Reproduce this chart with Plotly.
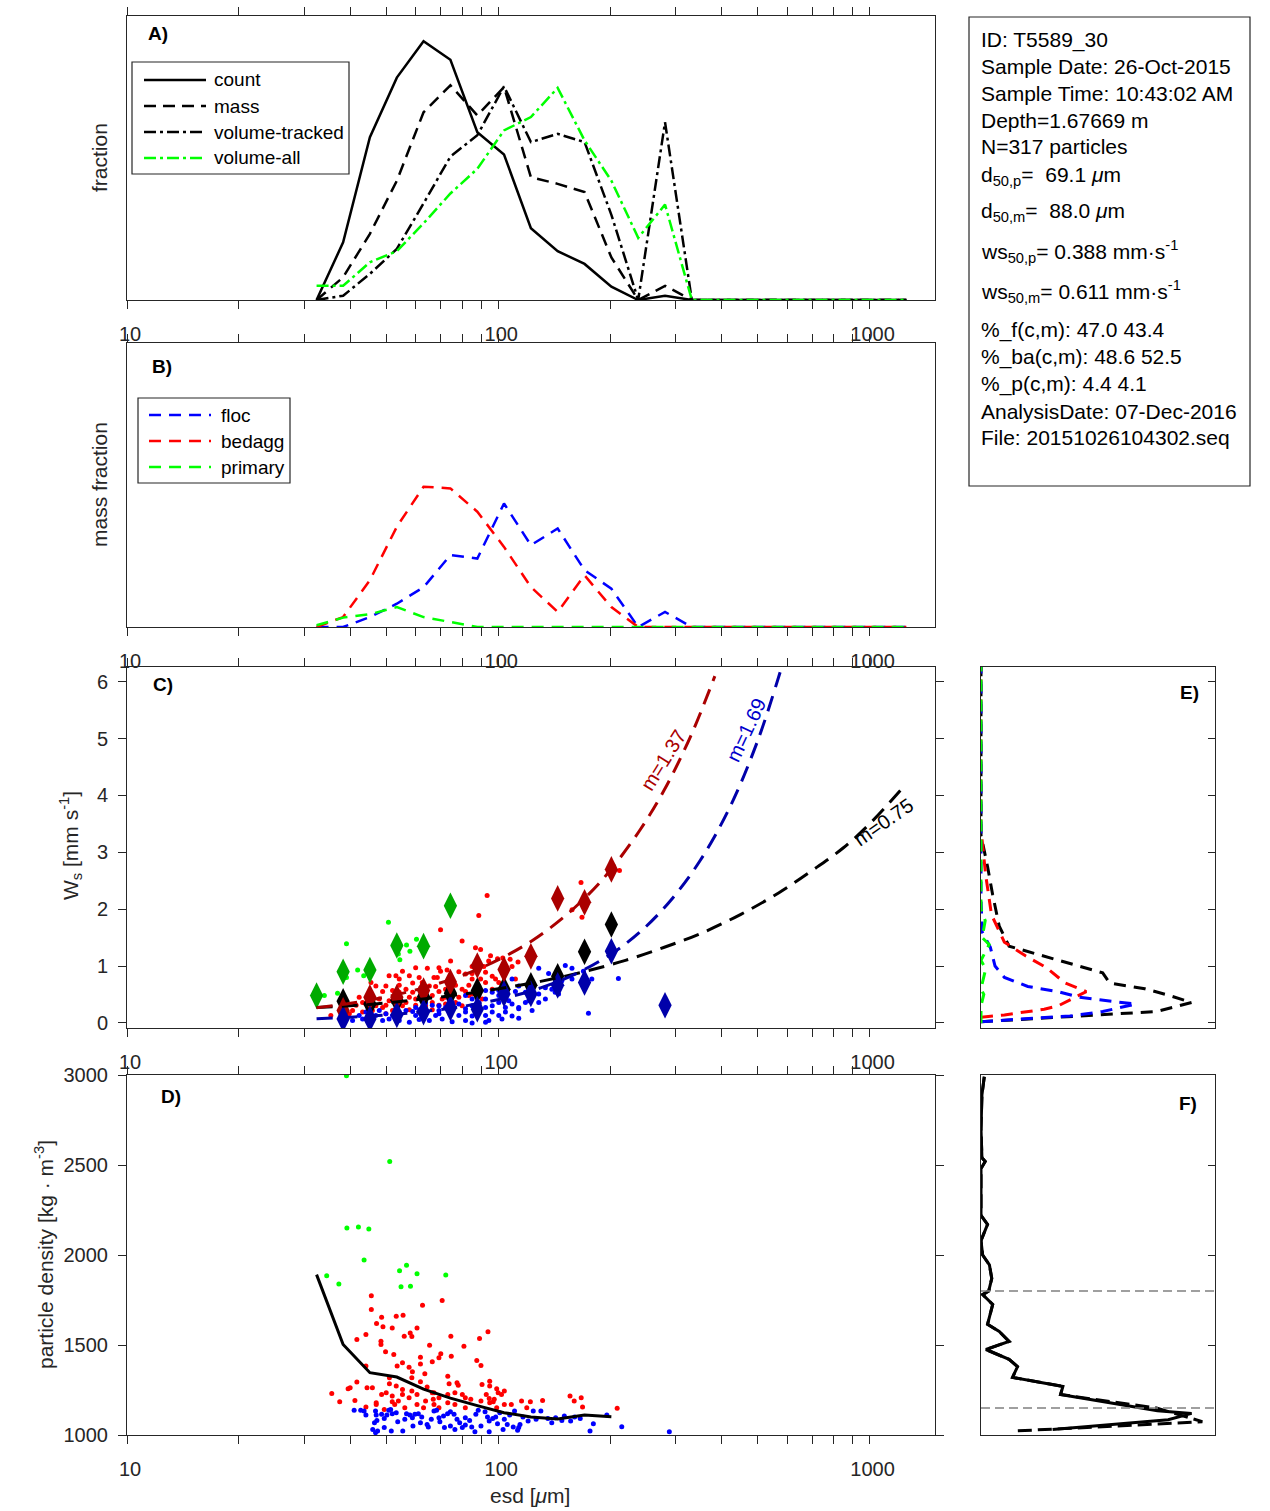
import math
import plotly.graph_objects as go

FONT = "Liberation Sans, Arial, Helvetica, sans-serif"
AXC = "#262626"

# ---------------- DATA ----------------
esd_bins = [32.4, 38.2, 45.1, 53.3, 62.9, 74.3, 87.8, 103.6, 122.4, 144.5, 170.7, 201.6,
            238.1, 281.2, 332.1, 392.2, 463.1, 546.9, 645.7, 762.6, 900.5, 1063, 1256]

A_count = [0, 0.203, 0.573, 0.783, 0.911, 0.846, 0.591, 0.512, 0.253, 0.172, 0.127, 0.047,
           0, 0.015, 0, 0, 0, 0, 0, 0, 0, 0, 0]
A_mass = [0, 0.08, 0.233, 0.42, 0.661, 0.756, 0.65, 0.75, 0.432, 0.409, 0.38, 0.15,
          0, 0.05, 0, 0, 0, 0, 0, 0, 0, 0, 0]
A_vol_tracked = [0, 0.015, 0.092, 0.18, 0.34, 0.505, 0.58, 0.752, 0.556, 0.585, 0.556, 0.30,
                 0, 0.626, 0, 0, 0, 0, 0, 0, 0, 0, 0]
A_vol_all = [0.05, 0.05, 0.133, 0.172, 0.27, 0.375, 0.462, 0.597, 0.644, 0.747, 0.562, 0.42,
             0.219, 0.336, 0, 0, 0, 0, 0, 0, 0, 0, 0]
A_names = ["count", "mass", "volume-tracked", "volume-all"]

B_floc = [0, 0, 0.035, 0.082, 0.14, 0.253, 0.241, 0.435, 0.288, 0.347, 0.2, 0.135,
          0, 0.053, 0, 0, 0, 0, 0, 0, 0, 0, 0]
B_bedagg = [0, 0.035, 0.165, 0.353, 0.494, 0.488, 0.406, 0.282, 0.141, 0.053, 0.182, 0.07,
            0, 0, 0, 0, 0, 0, 0, 0, 0, 0, 0]
B_primary = [0.006, 0.033, 0.045, 0.07, 0.035, 0.018, 0, 0, 0, 0, 0, 0,
             0, 0, 0, 0, 0, 0, 0, 0, 0, 0, 0]
B_names = ["floc", "bedagg", "primary"]

C_bedagg_esd = [93.3, 88.6, 69.9, 79.9, 74.4, 86.8, 89.6, 95.3, 94.2, 99.5, 102.8, 85.0, 91.4, 102.8,
                108.9, 113.0, 107.6, 55.2, 59.9, 64.4, 69.2, 69.9, 72.8, 78.3, 81.6, 85.0, 92.4, 96.3,
                50.8, 53.0, 57.6, 61.2, 67.1, 68.5, 74.4, 89.6, 98.3, 45.4, 46.8, 49.8, 54.1, 56.4,
                58.8, 61.8, 65.2, 67.8, 72.1, 76.7, 79.9, 83.3, 92.4, 100.3, 48.8, 51.9, 54.1, 58.8,
                63.7, 69.2, 75.1, 81.6, 88.6, 42.2, 44.9, 47.8, 50.8, 54.1, 56.4, 59.9, 62.4, 66.4,
                70.6, 76.7, 83.3, 90.5, 41.4, 44.0, 46.8, 49.8, 55.2, 59.9, 63.7, 69.2, 72.1, 35.4,
                40.5, 43.1, 45.8, 51.9, 57.6, 61.2, 66.4, 39.7, 49.8, 158, 168, 167, 212,
                54.1, 62.4, 73.6, 85.0, 66.4, 72.1, 78.3, 79.9, 85.0, 96.3, 104.4, 111.2, 48.8,
                57.6, 43.1, 38.1]
C_bedagg_ws = [2.24, 1.89, 1.64, 1.44, 1.09, 1.32, 1.29, 1.18, 1.09, 1.13, 1.14, 0.99, 0.99, 1.00,
               0.99, 1.07, 1.12, 0.91, 0.97, 0.96, 0.97, 0.91, 0.93, 0.90, 0.86, 0.87, 0.89, 0.82,
               0.83, 0.83, 0.83, 0.80, 0.80, 0.80, 0.83, 0.77, 0.77, 0.71, 0.65, 0.65, 0.66, 0.59,
               0.70, 0.62, 0.65, 0.64, 0.59, 0.66, 0.59, 0.66, 0.71, 0.71, 0.55, 0.57, 0.54, 0.54,
               0.54, 0.55, 0.54, 0.55, 0.65, 0.45, 0.48, 0.42, 0.39, 0.39, 0.36, 0.42, 0.45, 0.36,
               0.42, 0.36, 0.48, 0.42, 0.31, 0.33, 0.30, 0.31, 0.30, 0.31, 0.30, 0.31, 0.33, 0.13,
               0.22, 0.19, 0.22, 0.22, 0.23, 0.19, 0.23, 0.16, 0.16, 1.99, 1.86, 2.47, 2.68,
               0.77, 0.71, 0.71, 0.77, 0.48, 0.45, 0.45, 0.30, 0.51, 0.59, 0.65, 0.77, 0.27,
               0.45, 0.36, 0.25]

C_floc_esd = [151.5, 157.9, 128.5, 136.6, 169.5, 178.6, 145.3, 148.3, 108.9, 113.5, 123.3, 133.9,
              142.3, 100.3, 104.5, 118.3, 128.5, 111.2, 92.4, 96.3, 100.3, 81.6, 85.0, 88.6, 92.4,
              100.3, 106.7, 113.5, 120.8, 128.5, 145.3, 75.1, 78.3, 69.2, 72.1, 66.4, 63.7, 85.0,
              96.3, 108.9, 133.9, 54.1, 56.4, 58.8, 61.2, 63.7, 69.2, 75.1, 81.6, 88.6, 96.3, 104.5,
              113.5, 123.3, 49.8, 44.0, 46.8, 51.9, 59.9, 67.8, 78.3, 85.0, 92.4, 100.3, 108.9, 81.6,
              38.1, 40.5, 43.1, 45.8, 48.8, 50.8, 54.1, 57.6, 61.2, 65.2, 70.6, 75.1, 81.6, 85.0,
              92.4, 102.3, 113.5, 94.3, 210.6, 174.9,
              104.5, 118.3, 139.4, 157.9, 88.6, 73.6, 69.2, 59.9, 53.0, 47.8, 42.2, 123.3, 92.4]
C_floc_ws = [1.01, 0.96, 0.96, 0.87, 0.91, 0.77, 0.83, 0.74, 0.77, 0.65, 0.59, 0.62,
             0.54, 0.57, 0.51, 0.54, 0.51, 0.55, 0.57, 0.54, 0.48, 0.48, 0.42, 0.36, 0.42,
             0.36, 0.39, 0.27, 0.39, 0.36, 0.51, 0.36, 0.33, 0.30, 0.27, 0.31, 0.35, 0.30,
             0.30, 0.33, 0.42, 0.19, 0.22, 0.20, 0.23, 0.22, 0.22, 0.22, 0.19, 0.22, 0.19, 0.19,
             0.25, 0.22, 0.16, 0.19, 0.13, 0.13, 0.13, 0.13, 0.13, 0.12, 0.13, 0.13, 0.12, 0.25,
             0.07, 0.04, 0.07, 0.04, 0.04, 0.07, 0.04, 0.01, 0.06, 0.04, 0.07, 0.02, 0.04, 0.00,
             0.01, 0.07, 0.08, 0.04, 0.78, 0.17,
             0.27, 0.36, 0.59, 0.77, 0.48, 0.42, 0.16, 0.27, 0.25, 0.22, 0.13, 0.48, 0.27]

C_primary_esd = [50.6, 39.0, 60.2, 56.6, 57.8, 53.8, 54.3, 41.8, 43.4, 36.9, 34.0, 39.0]
C_primary_ws = [1.77, 1.39, 1.47, 1.37, 1.26, 1.21, 1.11, 0.93, 0.83, 0.52, 0.48, 0.80]

Cd_primary_esd = [32.4, 38.2, 45.1, 53.3, 62.9, 74.3]
Cd_primary_ws = [0.48, 0.90, 0.93, 1.36, 1.35, 2.06]
Cd_all_esd = [38.2, 45.1, 53.3, 62.9, 74.3, 87.8, 103.6, 122.4, 144.5, 170.7, 201.6]
Cd_all_ws = [0.38, 0.33, 0.40, 0.46, 0.52, 0.57, 0.59, 0.66, 0.82, 1.25, 1.73]
Cd_bedagg_esd = [38.2, 45.1, 53.3, 62.9, 74.3, 87.8, 103.6, 122.4, 144.5, 170.7, 201.6]
Cd_bedagg_ws = [0.22, 0.45, 0.45, 0.57, 0.72, 1.01, 0.94, 1.17, 2.19, 2.12, 2.70]
Cd_floc_esd = [38.2, 45.1, 53.3, 62.9, 74.3, 87.8, 103.6, 122.4, 144.5, 170.7, 201.6, 281.2]
Cd_floc_ws = [0.07, 0.07, 0.14, 0.19, 0.26, 0.24, 0.51, 0.51, 0.66, 0.71, 1.26, 0.31]

fit_all_esd = [32.4, 45, 60, 80, 100, 130, 170, 220, 280, 350, 450, 570, 700, 850, 1000, 1230]
fit_all_ws = [0.27, 0.325, 0.405, 0.505, 0.60, 0.73, 0.90, 1.10, 1.33, 1.57, 1.91, 2.29, 2.68, 3.08, 3.50, 4.14]
fit_bedagg_esd = [32.4, 40, 50, 60, 75, 90, 105, 125, 150, 175, 200, 240, 280, 330, 383]
fit_bedagg_ws = [0.266, 0.347, 0.46, 0.58, 0.77, 0.97, 1.18, 1.47, 1.86, 2.26, 2.68, 3.38, 4.10, 5.05, 6.10]
fit_floc_esd = [32.4, 40, 50, 60, 75, 90, 110, 130, 160, 200, 240, 290, 350, 420, 500, 586]
fit_floc_ws = [0.072, 0.099, 0.14, 0.186, 0.26, 0.35, 0.475, 0.616, 0.85, 1.20, 1.59, 2.14, 2.86, 3.79, 4.97, 6.36]
fit_labels = ["m=1.37", "m=1.69", "m=0.75"]

D_bedagg_esd = [45.5, 45.5, 62.5, 70.6, 48.5, 53.1, 55.4, 47.0, 48.9, 51.8, 57.9, 58.5, 60.4, 44.0,
                41.6, 55.8, 48.3, 48.3, 74.5, 65.3, 80.8, 89.0, 93.8, 49.7, 52.3, 70.0, 69.2, 74.7,
                61.7, 66.4, 55.2, 57.5, 61.7, 53.4, 58.7, 63.4, 44.0, 39.9, 39.4, 41.6, 44.3, 45.8,
                35.6, 37.4, 41.1, 44.0, 46.9, 50.9, 50.9, 53.1, 55.2, 58.5, 61.7, 64.3, 67.1, 69.2,
                73.1, 73.7, 77.4, 78.0, 76.4, 80.0, 73.1, 63.7, 60.4, 57.5, 53.8, 51.8, 48.5, 49.9,
                52.6, 87.5, 89.8, 90.4, 94.8, 94.8, 99.0, 99.9, 103.8, 81.5, 84.3, 92.8, 94.5, 96.9,
                103.8, 115.5, 122.0, 131.6, 156.0, 160.1, 167.2, 168.6, 209.0, 119.3, 97.5, 67.1,
                62.9, 69.2, 66.4, 81.5, 89.8, 102.0, 66.8, 76.4, 73.1, 51.8, 58.5, 55.2, 49.3, 46.9,
                56.0, 60.4, 94.8, 99.0, 108.4]
D_bedagg_rho = [1774, 1697, 1721, 1747, 1654, 1660, 1665, 1619, 1601, 1595, 1567, 1547, 1595, 1558,
                1530, 1549, 1521, 1503, 1549, 1499, 1493, 1536, 1573, 1462, 1447, 1451, 1429, 1438,
                1432, 1407, 1401, 1377, 1395, 1383, 1351, 1340, 1383, 1262, 1257, 1294, 1262, 1262,
                1231, 1185, 1192, 1155, 1179, 1318, 1285, 1272, 1253, 1318, 1296, 1266, 1235, 1207,
                1327, 1285, 1290, 1277, 1235, 1225, 1179, 1189, 1225, 1207, 1189, 1216, 1225, 1235,
                1170, 1414, 1386, 1281, 1299, 1272, 1257, 1235, 1244, 1207, 1198, 1225, 1203, 1185,
                1170, 1189, 1185, 1192, 1216, 1189, 1207, 1155, 1148, 1152, 1198, 1170,
                1152, 1152, 1235, 1152, 1189, 1225, 1198, 1170, 1225, 1185, 1244, 1225, 1142, 1170,
                1152, 1170, 1179, 1152, 1170]

D_floc_esd = [40.9, 42.6, 43.5, 44.0, 46.7, 46.9, 47.1, 46.4, 45.9, 46.7, 47.3, 48.5, 49.3, 50.1,
              50.7, 51.3, 51.8, 49.3, 51.5, 53.1, 56.6, 57.8, 58.7, 59.6, 60.9, 62.2, 64.3, 64.8,
              66.0, 67.1, 68.2, 69.2, 69.6, 71.6, 73.0, 74.3, 76.0, 77.4, 78.7, 80.0, 81.5, 83.7,
              84.8, 86.5, 87.0, 88.3, 92.1, 93.5, 94.5, 96.6, 94.5, 98.4, 99.5, 100.9, 103.8, 105.7,
              107.3, 109.7, 110.6, 112.7, 114.4, 116.5, 120.3, 124.2, 126.4, 130.2, 136.0, 139.3,
              142.7, 148.3, 150.6, 156.6, 160.5, 166.2, 176.6, 180.3, 196.0, 215.0, 288.8, 55.3,
              58.9, 61.7, 74.3, 76.4, 81.5, 89.8, 103.0, 113.5, 71.2, 56.0, 53.6]
D_floc_rho = [1137, 1137, 1133, 1111, 1133, 1111, 1081, 1068, 1031, 1013, 1022, 1115, 1092, 1111,
              1137, 1142, 1118, 1041, 1022, 1124, 1118, 1111, 1096, 1115, 1118, 1100, 1059, 1044,
              1087, 1133, 1137, 1096, 1074, 1041, 1118, 1129, 1115, 1087, 1068, 1041, 1096, 1081,
              1044, 1018, 1115, 1137, 1129, 1100, 1078, 1092, 1018, 1100, 1063, 1124, 1087, 1059,
              1111, 1044, 1133, 1026, 1059, 1100, 1078, 1133, 1087, 1133, 1092, 1068,
              1096, 1081, 1105, 1078, 1100, 1092, 1022, 1063, 1111, 1046, 1018, 1022,
              1050, 1068, 1050, 1031, 1055, 1050, 1031, 1041, 1105, 1087, 1074]

D_primary_esd = [39.0, 51.0, 39.1, 42.0, 44.8, 43.5, 34.5, 37.2, 54.2, 56.6, 60.4, 72.2, 54.7, 58.0]
D_primary_rho = [2996, 2519, 2150, 2155, 2144, 1972, 1885, 1839, 1913, 1943, 1896, 1889, 1824, 1826]

D_mean_rho = [1891, 1503, 1346, 1322, 1255, 1205, 1163, 1124, 1100, 1089, 1111, 1102]

E_all_ws = [0.02, 0.20, 0.36, 0.50, 0.60, 0.70, 0.88, 1.05, 1.22, 1.35, 1.70, 2.25, 2.75, 3.30, 6.26]
E_all_f = [0.0, 0.75, 0.90, 0.79, 0.70, 0.55, 0.52, 0.37, 0.23, 0.12, 0.078, 0.05, 0.028, 0.0, 0.0]
E_bedagg_ws = [0.10, 0.14, 0.24, 0.30, 0.55, 0.70, 0.97, 1.18, 1.42, 1.90, 2.60, 3.40, 6.26]
E_bedagg_f = [0.0, 0.10, 0.27, 0.33, 0.45, 0.36, 0.28, 0.19, 0.10, 0.045, 0.02, 0.0, 0.0]
E_floc_ws = [0.02, 0.05, 0.09, 0.12, 0.20, 0.33, 0.45, 0.55, 0.64, 0.80, 1.0, 1.33, 1.6, 2.2, 6.26]
E_floc_f = [0.0, 0.10, 0.25, 0.38, 0.52, 0.66, 0.42, 0.33, 0.20, 0.10, 0.06, 0.04, 0.005, 0.0, 0.0]
E_primary_ws = [0.0, 0.3, 0.5, 0.6, 0.95, 1.1, 1.38, 1.5, 1.8, 2.0, 6.26]
E_primary_f = [0.0, 0.0, 0.012, 0.0, 0.02, 0.0, 0.035, 0.005, 0.018, 0.0, 0.0]

F_rho = [2990, 2890, 2700, 2540, 2520, 2480, 2220, 2170, 2080, 2000, 1945, 1870, 1800, 1780, 1725,
         1670, 1615, 1575, 1520, 1475, 1420, 1380, 1320, 1270, 1225, 1135, 1120, 1085, 1030]
F_frac = [0.014, 0.004, 0.0, 0.004, 0.018, 0.0, 0.0, 0.028, 0.0, 0.007, 0.036, 0.046, 0.033, 0.007,
          0.05, 0.038, 0.028, 0.078, 0.12, 0.021, 0.12, 0.156, 0.135, 0.35, 0.34, 0.754, 0.90, 0.80, 0.306]
F_rho2 = [2990, 2890, 2700, 2540, 2520, 2480, 2220, 2170, 2080, 2000, 1945, 1870, 1800, 1780, 1725,
          1670, 1615, 1575, 1520, 1475, 1420, 1380, 1320, 1270, 1225, 1150, 1074, 1022]
F_frac2 = [0.014, 0.004, 0.0, 0.004, 0.018, 0.0, 0.0, 0.028, 0.0, 0.007, 0.036, 0.046, 0.033, 0.007,
           0.05, 0.038, 0.028, 0.078, 0.12, 0.021, 0.12, 0.156, 0.135, 0.35, 0.34, 0.75, 0.946, 0.142]
F_ref_rho = [1800, 1150]

info_lines = ["ID: T5589_30", "Sample Date: 26-Oct-2015", "Sample Time: 10:43:02 AM",
              "Depth=1.67669 m", "N=317 particles",
              "d<sub>50,p</sub>=\u00a0 69.1 <i>\u03bc</i>m", "d<sub>50,m</sub>=\u00a0 88.0 <i>\u03bc</i>m",
              "ws<sub>50,p</sub>= 0.388 mm\u00b7s<sup>-1</sup>", "ws<sub>50,m</sub>= 0.611 mm\u00b7s<sup>-1</sup>",
              "%_f(c,m): 47.0 43.4", "%_ba(c,m): 48.6 52.5", "%_p(c,m): 4.4 4.1",
              "AnalysisDate: 07-Dec-2016", "File: 20151026104302.seq"]

# ---------------- LAYOUT ----------------
W, H = 1270, 1511
def px(x):
    return x / W
def py(y):
    return 1 - y / H

minor_vals = [20, 30, 40, 50, 60, 70, 80, 90, 200, 300, 400, 500, 600, 700, 800, 900]

def xlog(anchor):
    return dict(domain=[px(127), px(935)], anchor=anchor, type="log",
                range=[1, math.log10(1500)], tickvals=[10, 100, 1000], ticktext=["10", "100", "1000"],
                ticks="outside", ticklen=8, tickwidth=1, tickcolor=AXC, showline=True,
                linecolor=AXC, linewidth=1, mirror="allticks", showgrid=False, zeroline=False,
                automargin=False,
                tickfont=dict(size=20, color=AXC, family=FONT), ticklabelstandoff=8, ticklabelshift=3,
                minor=dict(tickvals=minor_vals, ticks="outside", ticklen=8, tickcolor=AXC,
                           tickwidth=1, showgrid=False))

def ybox(domain, anchor, rng, tickvals=None, labels=True):
    d = dict(domain=domain, anchor=anchor, range=rng, showline=True, linecolor=AXC, linewidth=1,
             mirror=True, showgrid=False, zeroline=False, automargin=False)
    if tickvals is None:
        d.update(ticks="", showticklabels=False)
    else:
        d.update(tickvals=tickvals, ticks="outside", ticklen=8, tickcolor=AXC, mirror="allticks",
                 showticklabels=labels, tickfont=dict(size=20, color=AXC, family=FONT),
                 ticklabelstandoff=6)
    return d

fig = go.Figure()

# Panel A
A_styles = [dict(color="black", width=2.5),
            dict(color="black", width=2.5, dash="12px,7px"),
            dict(color="black", width=2.5, dash="12px,4px,3px,4px"),
            dict(color="#00FF00", width=2.5, dash="12px,4px,3px,4px")]
for yv, nm, st in zip([A_count, A_mass, A_vol_tracked, A_vol_all], A_names, A_styles):
    fig.add_trace(go.Scatter(x=esd_bins, y=yv, mode="lines", name=nm, line=st,
                             xaxis="x", yaxis="y", showlegend=False))

# Panel B
B_styles = [dict(color="#0000FF", width=2.5, dash="12px,8px"),
            dict(color="#FF0000", width=2.5, dash="12px,8px"),
            dict(color="#00FF00", width=2.5, dash="12px,8px")]
for yv, nm, st in zip([B_floc, B_bedagg, B_primary], B_names, B_styles):
    fig.add_trace(go.Scatter(x=esd_bins, y=yv, mode="lines", name=nm, line=st,
                             xaxis="x2", yaxis="y2", showlegend=False))

# Panel C
dot = dict(size=5, line=dict(width=0))
fig.add_trace(go.Scatter(x=C_bedagg_esd, y=C_bedagg_ws, mode="markers", marker=dict(color="#FF0000", **dot),
                         xaxis="x3", yaxis="y3", showlegend=False))
fig.add_trace(go.Scatter(x=C_floc_esd, y=C_floc_ws, mode="markers", marker=dict(color="#0000FF", **dot),
                         xaxis="x3", yaxis="y3", showlegend=False))
fig.add_trace(go.Scatter(x=C_primary_esd, y=C_primary_ws, mode="markers", marker=dict(color="#00FF00", **dot),
                         xaxis="x3", yaxis="y3", showlegend=False))
dia = dict(symbol="diamond-tall", size=19, line=dict(width=0))
for ex, wy, col in [(Cd_primary_esd, Cd_primary_ws, "#00AA00"), (Cd_all_esd, Cd_all_ws, "#000000"),
                    (Cd_bedagg_esd, Cd_bedagg_ws, "#AA0000"), (Cd_floc_esd, Cd_floc_ws, "#0000AA")]:
    fig.add_trace(go.Scatter(x=ex, y=wy, mode="markers", marker=dict(color=col, **dia),
                             xaxis="x3", yaxis="y3", showlegend=False))
for ex, wy, col in [(fit_all_esd, fit_all_ws, "#000000"), (fit_bedagg_esd, fit_bedagg_ws, "#AA0000"),
                    (fit_floc_esd, fit_floc_ws, "#0000AA")]:
    fig.add_trace(go.Scatter(x=ex, y=wy, mode="lines", line=dict(color=col, width=3, dash="16px,9px",
                                                                   shape="spline"),
                             xaxis="x3", yaxis="y3", showlegend=False))

# Panel D
fig.add_trace(go.Scatter(x=D_bedagg_esd, y=D_bedagg_rho, mode="markers", marker=dict(color="#FF0000", **dot),
                         xaxis="x4", yaxis="y4", showlegend=False))
fig.add_trace(go.Scatter(x=D_floc_esd, y=D_floc_rho, mode="markers", marker=dict(color="#0000FF", **dot),
                         xaxis="x4", yaxis="y4", showlegend=False))
fig.add_trace(go.Scatter(x=D_primary_esd, y=D_primary_rho, mode="markers", marker=dict(color="#00FF00", **dot),
                         xaxis="x4", yaxis="y4", showlegend=False))
fig.add_trace(go.Scatter(x=esd_bins[:len(D_mean_rho)], y=D_mean_rho, mode="lines",
                         line=dict(color="black", width=3), xaxis="x4", yaxis="y4", showlegend=False))

# Panel E
for fx, wy, col in [(E_all_f, E_all_ws, "#000000"), (E_bedagg_f, E_bedagg_ws, "#FF0000"),
                    (E_floc_f, E_floc_ws, "#0000FF"), (E_primary_f, E_primary_ws, "#00FF00")]:
    fig.add_trace(go.Scatter(x=fx, y=wy, mode="lines", line=dict(color=col, width=3, dash="12px,8px"),
                             xaxis="x5", yaxis="y5", showlegend=False))

# Panel F
fig.add_trace(go.Scatter(x=F_frac2, y=F_rho2, mode="lines", line=dict(color="black", width=3, dash="14px,6px"),
                         xaxis="x6", yaxis="y6", showlegend=False))
fig.add_trace(go.Scatter(x=F_frac, y=F_rho, mode="lines", line=dict(color="black", width=3),
                         xaxis="x6", yaxis="y6", showlegend=False))
for r in F_ref_rho:
    fig.add_shape(type="line", xref="x6 domain", yref="y6", x0=0, x1=1, y0=r, y1=r,
                  line=dict(color="#808080", width=1.4, dash="9px,5px"))

ann = []

# legends (drawn as boxes with sample lines)
def add_legend(box, x_line, x_text, rows, names, styles):
    fig.add_shape(type="rect", xref="paper", yref="paper", x0=px(box[0]), x1=px(box[2]),
                  y0=py(box[3]), y1=py(box[1]), line=dict(color=AXC, width=1.2), fillcolor="white",
                  layer="above")
    for r, nm, st in zip(rows, names, styles):
        fig.add_shape(type="line", xref="paper", yref="paper", x0=px(x_line[0]), x1=px(x_line[1]),
                      y0=py(r), y1=py(r), line=st, layer="above")
        ann.append(dict(text=nm, x=px(x_text), y=py(r), xref="paper", yref="paper", xanchor="left",
                        yanchor="middle", showarrow=False, font=dict(size=19, family=FONT, color="black")))

add_legend((132, 62, 349, 174), (144, 206), 212, [80, 106, 132, 158], A_names, A_styles)
add_legend((138, 398, 290, 483), (149, 211), 219, [415, 441, 467], B_names, B_styles)

# info box
fig.add_shape(type="rect", xref="paper", yref="paper", x0=px(969), x1=px(1250), y0=py(486), y1=py(17),
              line=dict(color=AXC, width=1.2))
line_y = [40, 66, 93, 120, 147, 176, 212, 251, 291, 330, 357, 384, 411, 438]
for t, yy in zip(info_lines, line_y):
    ann.append(dict(text=t, x=px(979), y=py(yy), xref="paper", yref="paper", xanchor="left",
                    yanchor="middle", showarrow=False, font=dict(size=21, family=FONT, color="black")))

for lab, xx, yy in [("A)", 146, 34), ("B)", 150, 366), ("C)", 151, 685), ("D)", 159, 1096),
                    ("E)", 1178, 692), ("F)", 1177, 1103)]:
    ann.append(dict(text="<b>%s</b>" % lab, x=px(xx), y=py(yy), xref="paper", yref="paper",
                    xanchor="left", yanchor="middle", showarrow=False,
                    font=dict(size=19, family=FONT, color="black")))

for t, xx, yy in [("fraction", 100, 158), ("mass fraction", 100, 485),
                  ("W<sub>s</sub> [mm s<sup>-1</sup>]", 70, 846),
                  ("particle density [kg \u00b7 m<sup>-3</sup>]", 44, 1255)]:
    ann.append(dict(text=t, x=px(xx), y=py(yy), xref="paper", yref="paper", xanchor="center",
                    yanchor="middle", textangle=-90, showarrow=False,
                    font=dict(size=21, family=FONT, color=AXC)))
ann.append(dict(text="esd [<i>\u03bc</i>m]", x=px(530), y=py(1495), xref="paper", yref="paper",
                xanchor="center", yanchor="middle", showarrow=False, font=dict(size=21, family=FONT, color=AXC)))

for t, lx, ly, ang, col in [(fit_labels[0], 2.445, 4.62, -58, "#AA0000"),
                            (fit_labels[1], 2.667, 5.16, -65, "#0000CC"),
                            (fit_labels[2], 3.038, 3.53, -35, "#000000")]:
    ann.append(dict(text=t, x=lx, y=ly, xref="x3", yref="y3", textangle=ang, showarrow=False,
                    font=dict(size=20, family=FONT, color=col)))

fig.update_layout(
    width=W, height=H, margin=dict(l=0, r=0, t=0, b=0, pad=0, autoexpand=False),
    paper_bgcolor="white", plot_bgcolor="white", showlegend=False,
    font=dict(family=FONT, color=AXC),
    xaxis=xlog("y"), yaxis=ybox([py(300), py(16)], "x", [0, 1]),
    xaxis2=xlog("y2"), yaxis2=ybox([py(627), py(343)], "x2", [0, 1]),
    xaxis3=xlog("y3"), yaxis3=ybox([py(1028), py(667)], "x3", [-0.09, 6.26], [0, 1, 2, 3, 4, 5, 6]),
    xaxis4=xlog("y4"), yaxis4=ybox([py(1435), py(1075)], "x4", [1000, 3000], [1000, 1500, 2000, 2500, 3000]),
    xaxis5=dict(domain=[px(981), px(1215)], anchor="y5", range=[0, 1], showline=True, linecolor=AXC,
                linewidth=1, mirror=True, showgrid=False, zeroline=False, ticks="", showticklabels=False),
    yaxis5=dict(domain=[py(1028), py(667)], anchor="x5", range=[-0.09, 6.26], side="right",
                tickvals=[0, 1, 2, 3, 4, 5, 6], ticks="inside", ticklen=7, tickcolor=AXC,
                showticklabels=False, showline=True, linecolor=AXC, linewidth=1, mirror=True,
                showgrid=False, zeroline=False),
    xaxis6=dict(domain=[px(981), px(1215)], anchor="y6", range=[0, 1], showline=True, linecolor=AXC,
                linewidth=1, mirror=True, showgrid=False, zeroline=False, ticks="", showticklabels=False),
    yaxis6=dict(domain=[py(1435), py(1075)], anchor="x6", range=[1000, 3000], side="right",
                tickvals=[1000, 1500, 2000, 2500, 3000], ticks="inside", ticklen=7, tickcolor=AXC,
                showticklabels=False, showline=True, linecolor=AXC, linewidth=1, mirror=True,
                showgrid=False, zeroline=False),
    annotations=ann,
)

fig.write_html("out.html", config={"displayModeBar": False},
               post_script="document.body.style.margin='0';document.body.style.overflow='hidden';")
